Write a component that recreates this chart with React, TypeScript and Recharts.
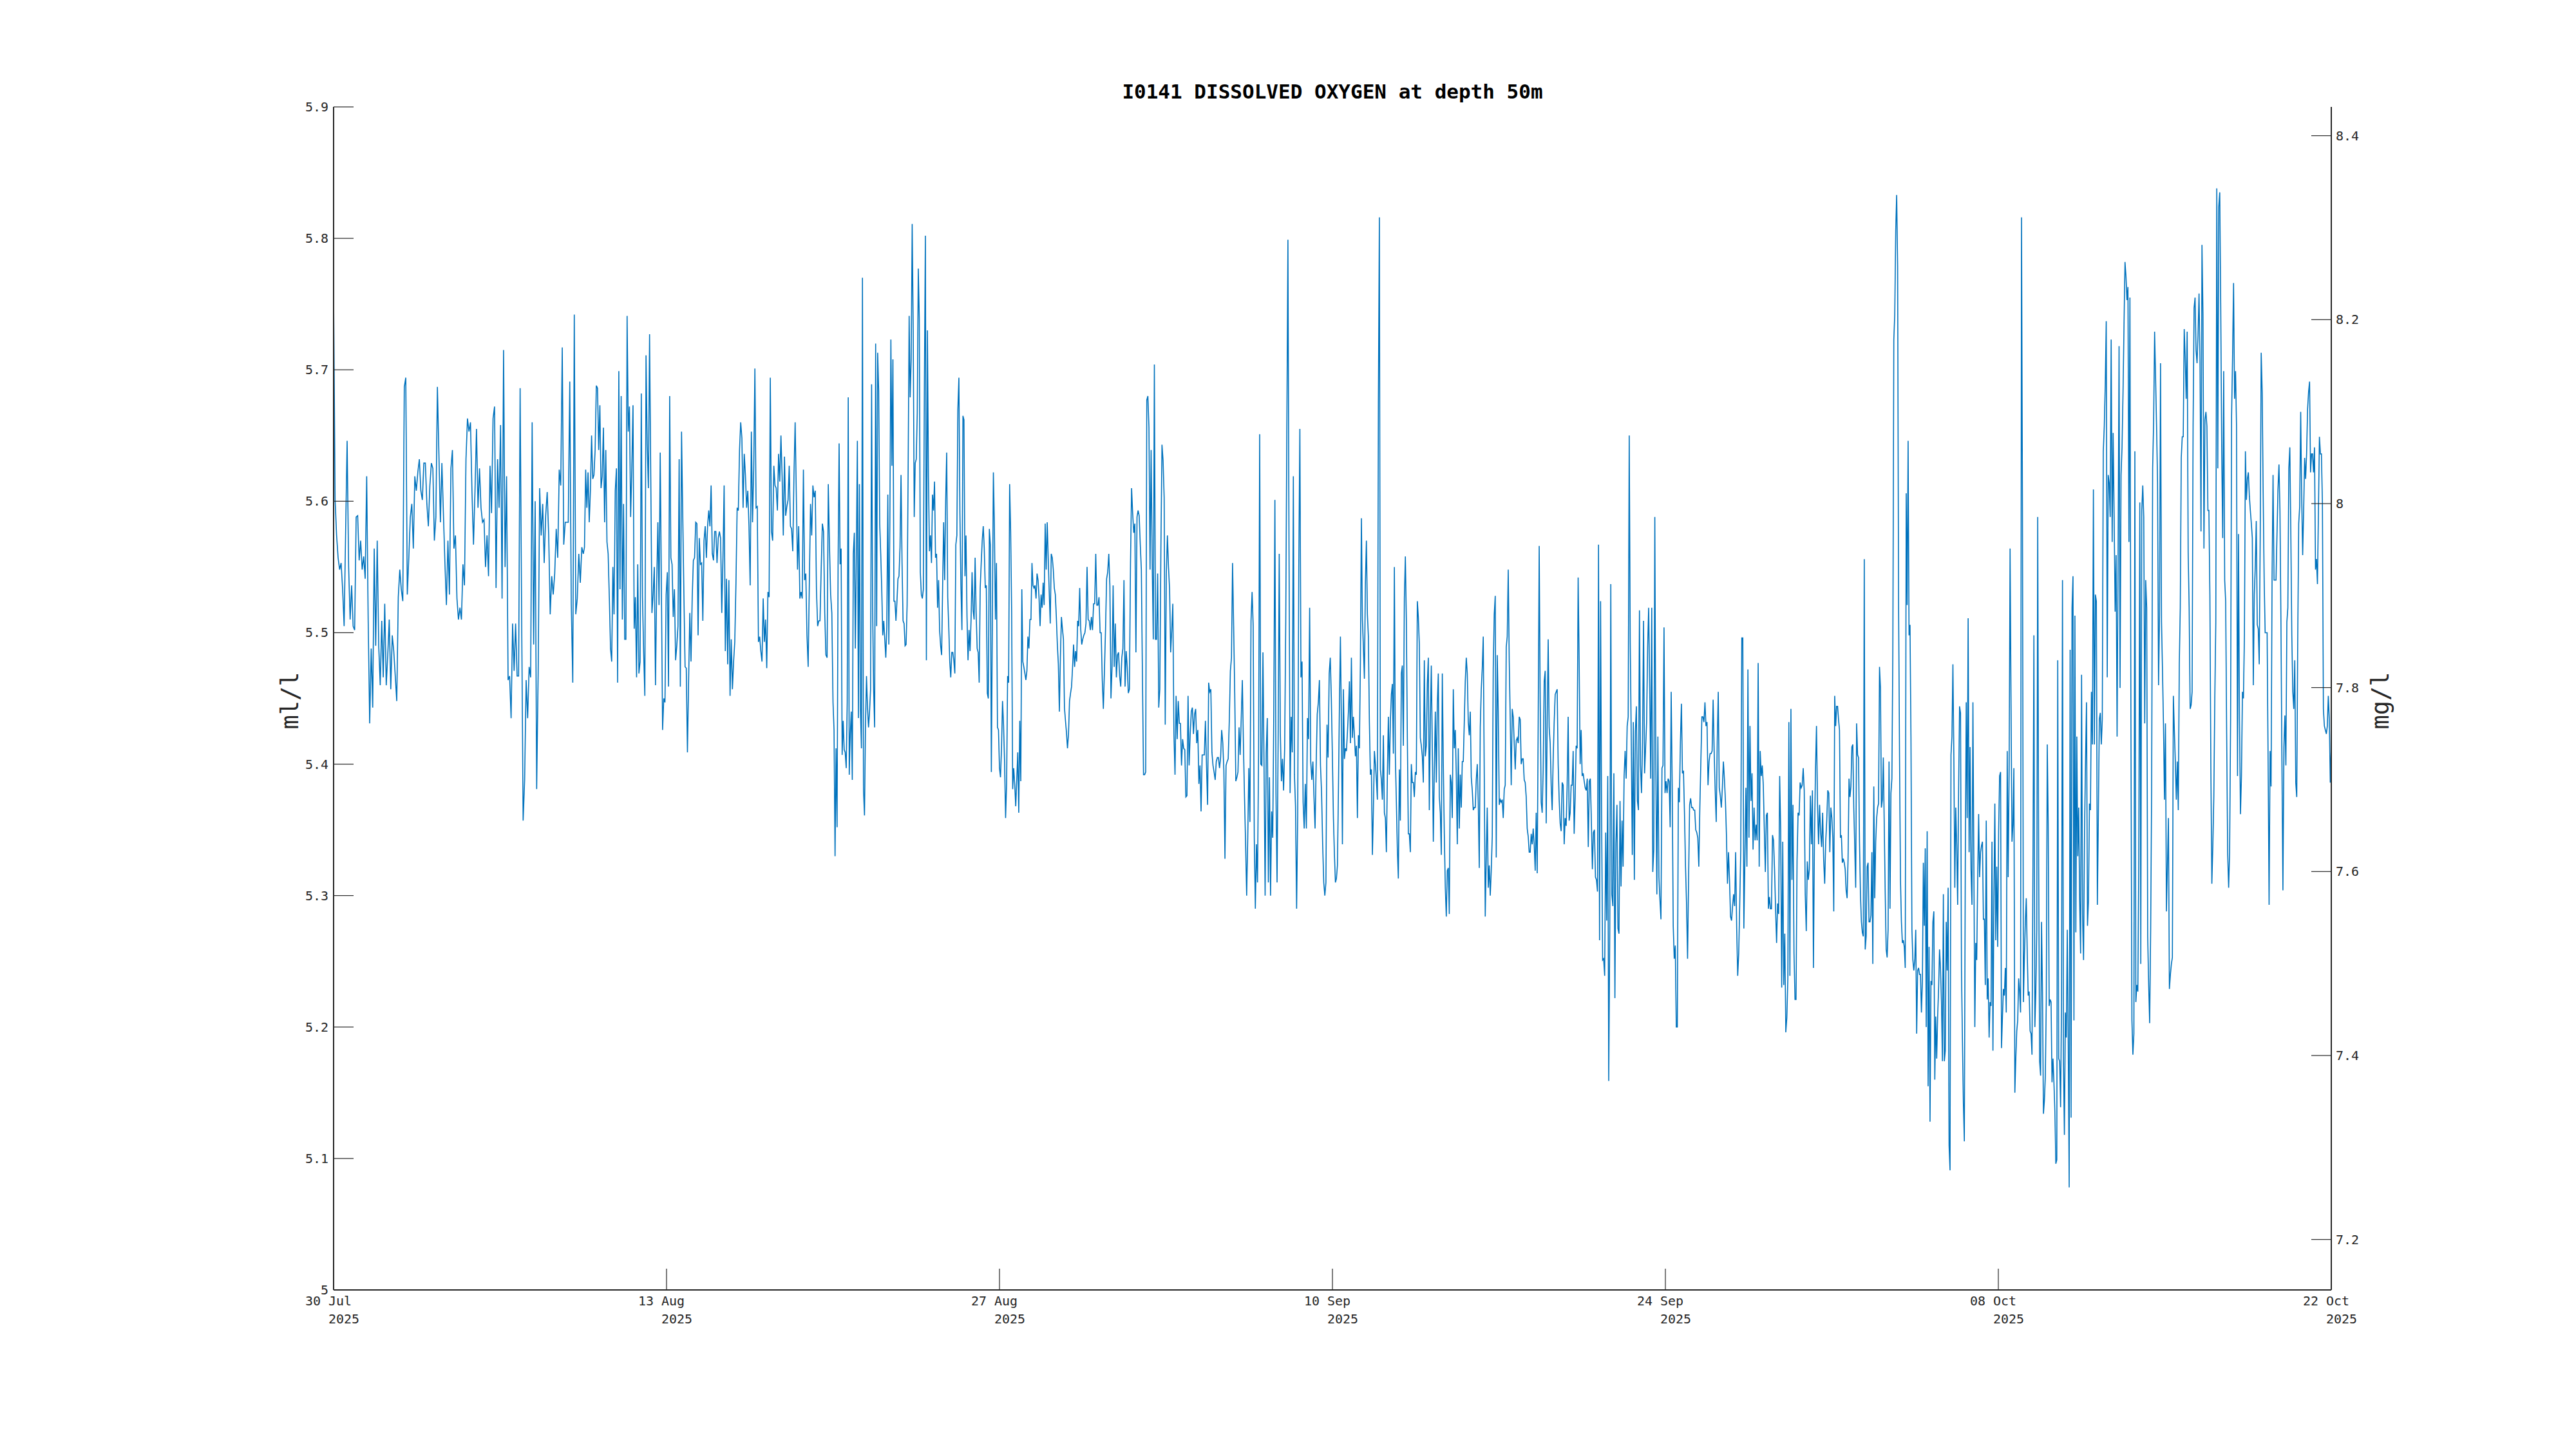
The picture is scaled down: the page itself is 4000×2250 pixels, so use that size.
import React from 'react';
import { LineChart, Line, XAxis, YAxis } from 'recharts';

// dissolved oxygen, ml/l in eight chunks of 10.5 days each
const SEG_1 = [5.758, 5.601, 5.574, 5.557, 5.548, 5.553, 5.533, 5.505, 5.577, 5.646, 5.550, 5.510, 5.536, 5.505, 5.502, 5.588, 5.589, 5.555, 5.570, 5.548, 5.558, 5.541, 5.619, 5.509, 5.431, 5.488, 5.443, 5.564, 5.490, 5.570, 5.490, 5.460, 5.509, 5.466, 5.522, 5.460, 5.483, 5.510, 5.457, 5.498, 5.486, 5.467, 5.448, 5.527, 5.548, 5.533, 5.524, 5.687, 5.694, 5.529, 5.557, 5.588, 5.598, 5.564, 5.619, 5.608, 5.622, 5.632, 5.608, 5.601, 5.629, 5.629, 5.598, 5.581, 5.612, 5.629, 5.625, 5.570, 5.588, 5.687, 5.636, 5.584, 5.629, 5.591, 5.553, 5.521, 5.570, 5.529, 5.625, 5.639, 5.564, 5.574, 5.526, 5.510, 5.519, 5.510, 5.552, 5.536, 5.632, 5.663, 5.653, 5.660, 5.607, 5.567, 5.608, 5.655, 5.595, 5.625, 5.595, 5.584, 5.586, 5.550, 5.574, 5.543, 5.627, 5.591, 5.663, 5.672, 5.534, 5.632, 5.595, 5.658, 5.526, 5.715, 5.550, 5.619, 5.464, 5.467, 5.435, 5.507, 5.471, 5.507, 5.467, 5.467, 5.686, 5.515, 5.357, 5.388, 5.464, 5.435, 5.474, 5.466, 5.660, 5.491, 5.600, 5.381, 5.469, 5.610, 5.574, 5.598, 5.553, 5.589, 5.607, 5.574, 5.514, 5.543, 5.529, 5.545, 5.579, 5.557, 5.624, 5.612, 5.717, 5.567, 5.584, 5.584, 5.584, 5.691, 5.522, 5.462, 5.742, 5.514, 5.526, 5.560, 5.538, 5.565];
const SEG_2 = [5.560, 5.565, 5.624, 5.595, 5.622, 5.584, 5.608, 5.650, 5.617, 5.620, 5.639, 5.688, 5.686, 5.639, 5.673, 5.610, 5.619, 5.656, 5.584, 5.639, 5.569, 5.560, 5.526, 5.488, 5.478, 5.550, 5.514, 5.608, 5.625, 5.462, 5.699, 5.533, 5.680, 5.510, 5.598, 5.495, 5.495, 5.741, 5.653, 5.672, 5.588, 5.625, 5.673, 5.503, 5.527, 5.466, 5.552, 5.469, 5.478, 5.682, 5.527, 5.485, 5.452, 5.711, 5.643, 5.610, 5.727, 5.619, 5.515, 5.529, 5.550, 5.460, 5.536, 5.584, 5.521, 5.637, 5.533, 5.426, 5.450, 5.447, 5.529, 5.546, 5.459, 5.680, 5.557, 5.552, 5.512, 5.533, 5.479, 5.490, 5.505, 5.632, 5.459, 5.653, 5.591, 5.529, 5.474, 5.473, 5.409, 5.464, 5.515, 5.478, 5.526, 5.555, 5.557, 5.584, 5.583, 5.498, 5.572, 5.552, 5.553, 5.509, 5.570, 5.581, 5.557, 5.581, 5.593, 5.581, 5.612, 5.560, 5.555, 5.577, 5.577, 5.553, 5.572, 5.577, 5.572, 5.515, 5.557, 5.612, 5.486, 5.541, 5.476, 5.540, 5.452, 5.495, 5.457, 5.478, 5.493, 5.538, 5.595, 5.593, 5.639, 5.660, 5.648, 5.595, 5.636, 5.620, 5.595, 5.608, 5.581, 5.536, 5.653, 5.584, 5.625, 5.701, 5.595, 5.596, 5.493, 5.497, 5.486, 5.478, 5.526, 5.493, 5.510, 5.473, 5.531, 5.527, 5.694, 5.577, 5.570, 5.627, 5.612, 5.610, 5.593, 5.636, 5.615, 5.650, 5.619, 5.574, 5.634, 5.589, 5.596, 5.601, 5.627, 5.581, 5.579, 5.562, 5.619, 5.660, 5.605, 5.548, 5.581, 5.526, 5.531, 5.526, 5.624, 5.540, 5.545, 5.498, 5.474, 5.538, 5.598, 5.574, 5.612, 5.603, 5.608, 5.533, 5.505, 5.509, 5.509, 5.548, 5.583, 5.577, 5.515, 5.483, 5.481, 5.613, 5.567, 5.529, 5.515];
const SEG_3 = [5.447, 5.426, 5.330, 5.412, 5.352, 5.550, 5.644, 5.552, 5.564, 5.407, 5.433, 5.411, 5.409, 5.397, 5.447, 5.679, 5.392, 5.423, 5.440, 5.388, 5.560, 5.576, 5.488, 5.560, 5.646, 5.435, 5.613, 5.443, 5.412, 5.770, 5.381, 5.361, 5.430, 5.467, 5.443, 5.428, 5.440, 5.457, 5.689, 5.519, 5.457, 5.428, 5.720, 5.505, 5.713, 5.684, 5.583, 5.560, 5.533, 5.498, 5.509, 5.495, 5.481, 5.505, 5.605, 5.491, 5.584, 5.723, 5.627, 5.708, 5.524, 5.524, 5.509, 5.524, 5.541, 5.543, 5.565, 5.620, 5.553, 5.509, 5.507, 5.490, 5.491, 5.521, 5.622, 5.741, 5.679, 5.708, 5.811, 5.729, 5.588, 5.629, 5.632, 5.667, 5.777, 5.739, 5.546, 5.529, 5.526, 5.533, 5.686, 5.802, 5.479, 5.730, 5.619, 5.562, 5.574, 5.553, 5.605, 5.593, 5.615, 5.557, 5.560, 5.519, 5.540, 5.502, 5.490, 5.483, 5.536, 5.584, 5.540, 5.601, 5.637, 5.527, 5.505, 5.478, 5.466, 5.485, 5.485, 5.479, 5.469, 5.567, 5.574, 5.670, 5.694, 5.591, 5.536, 5.502, 5.665, 5.662, 5.543, 5.574, 5.512, 5.479, 5.502, 5.486, 5.510, 5.546, 5.517, 5.510, 5.557, 5.515, 5.488, 5.485, 5.462, 5.534, 5.553, 5.570, 5.581, 5.564, 5.534, 5.536, 5.454, 5.450, 5.579, 5.567, 5.394, 5.512, 5.622, 5.579, 5.510, 5.553, 5.428, 5.426, 5.397, 5.390, 5.412, 5.448, 5.430, 5.402, 5.359, 5.385, 5.467, 5.462, 5.613, 5.577, 5.515, 5.381, 5.397, 5.385, 5.368, 5.388, 5.409, 5.363, 5.433, 5.387, 5.533, 5.478, 5.474, 5.469, 5.464, 5.471, 5.497, 5.488, 5.510, 5.510, 5.553, 5.536, 5.534, 5.536, 5.526, 5.545, 5.540, 5.526, 5.505, 5.529, 5.519, 5.538, 5.521, 5.583, 5.548, 5.584, 5.557, 5.531, 5.507, 5.560, 5.557, 5.548, 5.534, 5.529, 5.512, 5.491, 5.476, 5.440, 5.481, 5.512, 5.503, 5.495, 5.443, 5.433, 5.424, 5.412, 5.423, 5.448, 5.454, 5.459, 5.474, 5.491, 5.474, 5.486, 5.478, 5.509, 5.505, 5.534, 5.503, 5.491];
const SEG_4 = [5.495, 5.498, 5.500, 5.507, 5.550, 5.510, 5.509, 5.502, 5.512, 5.502, 5.522, 5.522, 5.560, 5.521, 5.521, 5.527, 5.500, 5.500, 5.464, 5.442, 5.471, 5.502, 5.541, 5.546, 5.560, 5.536, 5.450, 5.474, 5.536, 5.474, 5.507, 5.466, 5.483, 5.485, 5.467, 5.459, 5.481, 5.488, 5.540, 5.459, 5.486, 5.474, 5.454, 5.457, 5.553, 5.610, 5.591, 5.576, 5.583, 5.485, 5.588, 5.593, 5.589, 5.567, 5.548, 5.467, 5.392, 5.392, 5.394, 5.677, 5.680, 5.656, 5.548, 5.639, 5.553, 5.495, 5.704, 5.495, 5.495, 5.545, 5.443, 5.457, 5.564, 5.643, 5.631, 5.603, 5.430, 5.545, 5.574, 5.550, 5.533, 5.485, 5.502, 5.522, 5.423, 5.392, 5.452, 5.419, 5.448, 5.431, 5.431, 5.399, 5.419, 5.412, 5.411, 5.375, 5.376, 5.452, 5.399, 5.423, 5.440, 5.443, 5.423, 5.438, 5.442, 5.416, 5.426, 5.385, 5.399, 5.364, 5.407, 5.407, 5.407, 5.433, 5.399, 5.369, 5.462, 5.455, 5.457, 5.409, 5.399, 5.394, 5.388, 5.402, 5.405, 5.405, 5.397, 5.405, 5.426, 5.416, 5.395, 5.328, 5.399, 5.402, 5.404, 5.433, 5.471, 5.481, 5.553, 5.505, 5.454, 5.387, 5.390, 5.394, 5.428, 5.407, 5.435, 5.464, 5.416, 5.375, 5.340, 5.300, 5.344, 5.397, 5.356, 5.509, 5.531, 5.505, 5.344, 5.290, 5.339, 5.310, 5.412, 5.651, 5.400, 5.399, 5.485, 5.399, 5.300, 5.409, 5.435, 5.310, 5.390, 5.300, 5.364, 5.344, 5.442, 5.601, 5.378, 5.310, 5.419, 5.560, 5.424, 5.387, 5.404, 5.380, 5.412, 5.509, 5.653, 5.799, 5.564, 5.378, 5.436, 5.409, 5.619, 5.392, 5.368, 5.290, 5.361, 5.550, 5.655, 5.466, 5.478, 5.371, 5.351, 5.385, 5.351, 5.435, 5.419, 5.519, 5.402, 5.388, 5.402, 5.375, 5.351, 5.399, 5.438, 5.447, 5.464, 5.399, 5.378, 5.339, 5.310, 5.300, 5.310, 5.430, 5.405, 5.469, 5.481, 5.450];
const SEG_5 = [5.404, 5.359, 5.331, 5.310, 5.313, 5.323, 5.380, 5.445, 5.497, 5.432, 5.339, 5.457, 5.404, 5.412, 5.410, 5.424, 5.440, 5.463, 5.416, 5.481, 5.420, 5.436, 5.422, 5.406, 5.414, 5.359, 5.422, 5.412, 5.477, 5.587, 5.510, 5.489, 5.465, 5.538, 5.570, 5.514, 5.497, 5.432, 5.392, 5.396, 5.331, 5.365, 5.410, 5.400, 5.388, 5.373, 5.676, 5.816, 5.396, 5.388, 5.373, 5.422, 5.363, 5.359, 5.333, 5.392, 5.436, 5.392, 5.432, 5.453, 5.461, 5.408, 5.550, 5.406, 5.371, 5.335, 5.313, 5.396, 5.357, 5.469, 5.475, 5.414, 5.526, 5.558, 5.510, 5.420, 5.347, 5.347, 5.333, 5.400, 5.386, 5.386, 5.375, 5.394, 5.392, 5.524, 5.512, 5.491, 5.420, 5.414, 5.406, 5.386, 5.479, 5.406, 5.414, 5.461, 5.481, 5.365, 5.432, 5.475, 5.412, 5.341, 5.396, 5.440, 5.386, 5.445, 5.469, 5.375, 5.363, 5.331, 5.469, 5.400, 5.347, 5.306, 5.284, 5.319, 5.321, 5.286, 5.392, 5.386, 5.359, 5.457, 5.412, 5.426, 5.392, 5.339, 5.412, 5.351, 5.392, 5.367, 5.402, 5.402, 5.432, 5.463, 5.481, 5.469, 5.432, 5.422, 5.440, 5.390, 5.380, 5.365, 5.367, 5.367, 5.388, 5.400, 5.371, 5.321, 5.428, 5.457, 5.473, 5.497, 5.392, 5.284, 5.329, 5.367, 5.306, 5.323, 5.300, 5.319, 5.345, 5.473, 5.514, 5.528, 5.329, 5.483, 5.440, 5.369, 5.373, 5.371, 5.373, 5.359, 5.381, 5.384, 5.489, 5.497, 5.548, 5.479, 5.434, 5.384, 5.442, 5.436, 5.416, 5.396, 5.418, 5.420, 5.416, 5.436, 5.434, 5.400, 5.404, 5.404, 5.388, 5.386, 5.375, 5.351, 5.345, 5.333, 5.333, 5.347, 5.339, 5.351, 5.339, 5.319, 5.363, 5.317, 5.432, 5.566, 5.449, 5.371, 5.363, 5.396, 5.463, 5.471, 5.355, 5.432, 5.495, 5.428, 5.416, 5.384, 5.365, 5.404, 5.432, 5.453, 5.455, 5.457, 5.400, 5.373, 5.355, 5.349, 5.386, 5.384, 5.339, 5.359, 5.353, 5.384, 5.436, 5.357, 5.363, 5.384, 5.384, 5.410, 5.347, 5.375, 5.414, 5.412, 5.542, 5.479, 5.400, 5.426];
const SEG_6 = [5.391, 5.393, 5.387, 5.382, 5.380, 5.389, 5.337, 5.387, 5.389, 5.357, 5.320, 5.348, 5.350, 5.314, 5.312, 5.303, 5.567, 5.266, 5.524, 5.361, 5.251, 5.252, 5.239, 5.348, 5.281, 5.391, 5.159, 5.275, 5.537, 5.301, 5.292, 5.393, 5.222, 5.339, 5.369, 5.275, 5.271, 5.372, 5.307, 5.357, 5.322, 5.391, 5.410, 5.389, 5.429, 5.436, 5.650, 5.492, 5.417, 5.331, 5.432, 5.312, 5.425, 5.444, 5.372, 5.365, 5.517, 5.399, 5.378, 5.417, 5.509, 5.393, 5.412, 5.432, 5.489, 5.519, 5.459, 5.389, 5.519, 5.318, 5.335, 5.588, 5.399, 5.301, 5.421, 5.314, 5.297, 5.282, 5.397, 5.399, 5.504, 5.378, 5.387, 5.378, 5.389, 5.387, 5.352, 5.455, 5.384, 5.277, 5.252, 5.262, 5.200, 5.200, 5.382, 5.371, 5.417, 5.446, 5.393, 5.395, 5.363, 5.322, 5.294, 5.252, 5.312, 5.369, 5.374, 5.367, 5.367, 5.365, 5.365, 5.350, 5.348, 5.344, 5.322, 5.367, 5.402, 5.436, 5.436, 5.432, 5.447, 5.429, 5.432, 5.384, 5.402, 5.408, 5.408, 5.410, 5.449, 5.410, 5.380, 5.356, 5.417, 5.455, 5.382, 5.376, 5.367, 5.382, 5.402, 5.389, 5.372, 5.346, 5.309, 5.333, 5.312, 5.284, 5.281, 5.292, 5.301, 5.292, 5.333, 5.275, 5.239, 5.256, 5.294, 5.335, 5.496, 5.496, 5.275, 5.327, 5.382, 5.322, 5.472, 5.344, 5.429, 5.372, 5.393, 5.335, 5.367, 5.342, 5.354, 5.342, 5.477, 5.322, 5.410, 5.391, 5.399, 5.384, 5.350, 5.318, 5.361, 5.363, 5.290, 5.299, 5.290, 5.290, 5.346, 5.342, 5.320, 5.290, 5.264, 5.294, 5.286, 5.391, 5.350, 5.230, 5.341, 5.232, 5.271, 5.196, 5.207, 5.237, 5.432, 5.239, 5.442, 5.312, 5.369, 5.256, 5.221, 5.221, 5.327, 5.363, 5.361, 5.386, 5.382, 5.384, 5.397, 5.380, 5.301, 5.273, 5.326, 5.312, 5.320, 5.376, 5.339, 5.380, 5.245, 5.342, 5.395, 5.429, 5.369, 5.339, 5.369, 5.348, 5.337, 5.363, 5.327, 5.309, 5.341, 5.357, 5.380, 5.378, 5.333, 5.367];
const SEG_7 = [5.359, 5.344, 5.288, 5.452, 5.429, 5.444, 5.444, 5.434, 5.426, 5.344, 5.346, 5.325, 5.328, 5.325, 5.320, 5.304, 5.298, 5.328, 5.389, 5.375, 5.383, 5.413, 5.415, 5.367, 5.338, 5.306, 5.431, 5.407, 5.405, 5.341, 5.301, 5.280, 5.272, 5.269, 5.556, 5.259, 5.269, 5.322, 5.325, 5.280, 5.280, 5.285, 5.333, 5.248, 5.383, 5.298, 5.341, 5.359, 5.367, 5.370, 5.474, 5.458, 5.367, 5.373, 5.405, 5.352, 5.301, 5.259, 5.253, 5.274, 5.402, 5.290, 5.378, 5.389, 5.487, 5.723, 5.742, 5.806, 5.833, 5.779, 5.524, 5.407, 5.312, 5.280, 5.264, 5.266, 5.261, 5.245, 5.606, 5.521, 5.646, 5.498, 5.506, 5.421, 5.274, 5.251, 5.243, 5.251, 5.274, 5.195, 5.243, 5.245, 5.240, 5.240, 5.211, 5.235, 5.325, 5.277, 5.336, 5.200, 5.349, 5.155, 5.261, 5.128, 5.235, 5.232, 5.280, 5.288, 5.160, 5.208, 5.176, 5.208, 5.229, 5.259, 5.245, 5.219, 5.174, 5.301, 5.174, 5.182, 5.280, 5.243, 5.306, 5.110, 5.091, 5.407, 5.421, 5.476, 5.405, 5.306, 5.367, 5.338, 5.293, 5.381, 5.444, 5.439, 5.243, 5.190, 5.142, 5.113, 5.325, 5.447, 5.359, 5.511, 5.333, 5.413, 5.320, 5.293, 5.447, 5.322, 5.200, 5.264, 5.251, 5.312, 5.362, 5.314, 5.333, 5.338, 5.341, 5.282, 5.282, 5.232, 5.357, 5.221, 5.237, 5.192, 5.219, 5.216, 5.341, 5.182, 5.296, 5.370, 5.266, 5.322, 5.261, 5.349, 5.391, 5.394, 5.184, 5.208, 5.229, 5.224, 5.245, 5.211, 5.410, 5.314, 5.397, 5.564, 5.444, 5.341, 5.354, 5.397, 5.150, 5.176, 5.197, 5.205, 5.237, 5.227, 5.211, 5.816, 5.593, 5.219, 5.253, 5.280, 5.298, 5.256, 5.224, 5.227, 5.197, 5.195, 5.179, 5.322, 5.498, 5.200, 5.227, 5.274, 5.588, 5.322, 5.174, 5.163, 5.280, 5.227, 5.134, 5.144, 5.163, 5.221, 5.415, 5.354, 5.216, 5.221, 5.219, 5.158, 5.176, 5.158, 5.136, 5.096, 5.099, 5.479, 5.176, 5.174, 5.139, 5.221, 5.540, 5.174, 5.118, 5.211, 5.192, 5.274, 5.189, 5.078, 5.487, 5.131, 5.519, 5.543, 5.205, 5.513, 5.272, 5.421, 5.330, 5.367, 5.296, 5.256];
const SEG_8 = [5.468, 5.285, 5.251, 5.349, 5.402, 5.447, 5.277, 5.296, 5.370, 5.365, 5.455, 5.415, 5.609, 5.415, 5.529, 5.524, 5.293, 5.359, 5.434, 5.439, 5.415, 5.434, 5.638, 5.657, 5.689, 5.737, 5.466, 5.620, 5.614, 5.588, 5.723, 5.569, 5.652, 5.588, 5.516, 5.559, 5.421, 5.556, 5.718, 5.458, 5.620, 5.641, 5.683, 5.734, 5.782, 5.771, 5.753, 5.763, 5.569, 5.755, 5.434, 5.205, 5.179, 5.195, 5.638, 5.219, 5.232, 5.227, 5.328, 5.599, 5.248, 5.593, 5.612, 5.588, 5.431, 5.540, 5.519, 5.269, 5.232, 5.203, 5.274, 5.381, 5.625, 5.660, 5.729, 5.694, 5.657, 5.614, 5.460, 5.514, 5.705, 5.508, 5.471, 5.429, 5.373, 5.431, 5.288, 5.322, 5.359, 5.229, 5.240, 5.248, 5.253, 5.452, 5.426, 5.402, 5.373, 5.402, 5.365, 5.476, 5.519, 5.633, 5.649, 5.649, 5.731, 5.710, 5.678, 5.729, 5.561, 5.519, 5.442, 5.445, 5.455, 5.657, 5.747, 5.755, 5.715, 5.705, 5.726, 5.758, 5.707, 5.577, 5.795, 5.742, 5.564, 5.662, 5.668, 5.657, 5.593, 5.593, 5.529, 5.397, 5.309, 5.338, 5.375, 5.450, 5.508, 5.838, 5.625, 5.824, 5.835, 5.747, 5.638, 5.572, 5.699, 5.540, 5.524, 5.423, 5.333, 5.306, 5.333, 5.434, 5.665, 5.710, 5.766, 5.678, 5.699, 5.657, 5.391, 5.575, 5.434, 5.362, 5.391, 5.455, 5.450, 5.498, 5.638, 5.601, 5.617, 5.622, 5.604, 5.593, 5.583, 5.572, 5.460, 5.529, 5.551, 5.585, 5.506, 5.503, 5.476, 5.572, 5.713, 5.683, 5.606, 5.540, 5.500, 5.500, 5.500, 5.402, 5.293, 5.410, 5.383, 5.540, 5.620, 5.540, 5.540, 5.540, 5.575, 5.609, 5.628, 5.593, 5.508, 5.402, 5.304, 5.413, 5.437, 5.399, 5.508, 5.519, 5.625, 5.641, 5.577, 5.498, 5.455, 5.442, 5.479, 5.386, 5.375, 5.492, 5.583, 5.596, 5.668, 5.604, 5.559, 5.593, 5.633, 5.617, 5.636, 5.670, 5.683, 5.691, 5.622, 5.636, 5.636, 5.622, 5.641, 5.548, 5.556, 5.537, 5.593, 5.649, 5.636, 5.636, 5.599, 5.442, 5.429, 5.426, 5.423, 5.429, 5.452, 5.434, 5.386, 5.413];

const SEGMENTS = [SEG_1, SEG_2, SEG_3, SEG_4, SEG_5, SEG_6, SEG_7, SEG_8];

const START = Date.UTC(2025, 6, 30);
const END = Date.UTC(2025, 9, 22);

const X_TICK_DATES = ['2025-07-30', '2025-08-13', '2025-08-27', '2025-09-10', '2025-09-24', '2025-10-08', '2025-10-22'];
const X_TICK_LABELS = ['30 Jul', '13 Aug', '27 Aug', '10 Sep', '24 Sep', '08 Oct', '22 Oct'];
const X_YEAR_LABEL = '2025';
const X_TICKS = X_TICK_DATES.map(d => Date.parse(d + 'T00:00:00Z'));

const ML_TICKS = [5, 5.1, 5.2, 5.3, 5.4, 5.5, 5.6, 5.7, 5.8, 5.9];
const MG_TICKS = [7.2, 7.4, 7.6, 7.8, 8, 8.2, 8.4];
const ML_TO_MG = 1.42903;

const TITLE = 'I0141 DISSOLVED OXYGEN at depth 50m';
const LEFT_LABEL = 'ml/l';
const RIGHT_LABEL = 'mg/l';

const AXIS = '#262626';
const LINE = '#0072BD';
const FONT = '"DejaVu Sans Mono", "Liberation Mono", monospace';

const segSpan = (END - START) / SEGMENTS.length;
const data = SEGMENTS.flatMap((seg, k) => {
    const last = k === SEGMENTS.length - 1;
    const step = segSpan / (last ? seg.length - 1 : seg.length);
    return seg.map((v, i) => ({ t: START + k * segSpan + i * step, v }));
});

function XTick({ x, y, payload }: any) {
    const idx = X_TICKS.indexOf(payload.value);
    return (
        <g>
            <line x1={x} x2={x} y1={y} y2={y - 33} stroke={AXIS} strokeWidth={1.2} />
            <text x={x - 8} y={y + 24} textAnchor="middle" fontFamily={FONT} fontSize={20} fill={AXIS}>
                {X_TICK_LABELS[idx]}
            </text>
            <text x={x + 16} y={y + 52} textAnchor="middle" fontFamily={FONT} fontSize={20} fill={AXIS}>
                {X_YEAR_LABEL}
            </text>
        </g>
    );
}

function LeftTick({ x, y, payload }: any) {
    return (
        <g>
            <line x1={x} x2={x + 31} y1={y} y2={y} stroke={AXIS} strokeWidth={1.2} />
            <text x={x - 8} y={y + 7} textAnchor="end" fontFamily={FONT} fontSize={20} fill={AXIS}>
                {String(+Number(payload.value).toFixed(1))}
            </text>
        </g>
    );
}

function RightTick({ x, y, payload }: any) {
    return (
        <g>
            <line x1={x - 31} x2={x} y1={y} y2={y} stroke={AXIS} strokeWidth={1.2} />
            <text x={x + 7} y={y + 7} textAnchor="start" fontFamily={FONT} fontSize={20} fill={AXIS}>
                {String(+Number(payload.value).toFixed(1))}
            </text>
        </g>
    );
}

export default function App() {
    return (
        <div style={{ position: 'absolute', left: 0, top: 0, width: 4000, height: 2250, background: '#fff' }}>
            <LineChart
                width={4000}
                height={2250}
                data={data}
                margin={{ top: 166, right: 280, bottom: 147, left: 418 }}
            >
                <XAxis
                    dataKey="t"
                    type="number"
                    domain={[START, END]}
                    ticks={X_TICKS}
                    interval={0}
                    height={100}
                    allowDataOverflow
                    axisLine={{ stroke: AXIS, strokeWidth: 2 }}
                    tickLine={false}
                    tickSize={0}
                    tickMargin={0}
                    tick={<XTick />}
                />
                <YAxis
                    yAxisId="ml"
                    type="number"
                    domain={[5, 5.9]}
                    ticks={ML_TICKS}
                    interval={0}
                    width={100}
                    allowDataOverflow
                    axisLine={{ stroke: AXIS, strokeWidth: 2 }}
                    tickLine={false}
                    tickSize={0}
                    tickMargin={0}
                    tick={<LeftTick />}
                />
                <YAxis
                    yAxisId="mg"
                    orientation="right"
                    type="number"
                    domain={[5 * ML_TO_MG, 5.9 * ML_TO_MG]}
                    ticks={MG_TICKS}
                    interval={0}
                    width={100}
                    allowDataOverflow
                    axisLine={{ stroke: AXIS, strokeWidth: 2 }}
                    tickLine={false}
                    tickSize={0}
                    tickMargin={0}
                    tick={<RightTick />}
                />
                <Line
                    yAxisId="mg"
                    type="linear"
                    dataKey={(d: any) => d.v * ML_TO_MG}
                    stroke="none"
                    strokeOpacity={0}
                    dot={false}
                    activeDot={false}
                    isAnimationActive={false}
                />
                <Line
                    yAxisId="ml"
                    type="linear"
                    dataKey="v"
                    stroke={LINE}
                    strokeWidth={1.6}
                    dot={false}
                    activeDot={false}
                    isAnimationActive={false}
                />
            </LineChart>
            <svg width={4000} height={2250} style={{ position: 'absolute', left: 0, top: 0, pointerEvents: 'none' }}>
                <text x={2069} y={153} textAnchor="middle" fontFamily={FONT} fontWeight="bold" fontSize={31} fill="#000">
                    {TITLE}
                </text>
                <text x={463} y={1088} textAnchor="middle" fontFamily={FONT} fontSize={37} fill={AXIS} transform="rotate(-90 463 1088)">
                    {LEFT_LABEL}
                </text>
                <text x={3709} y={1088} textAnchor="middle" fontFamily={FONT} fontSize={37} fill={AXIS} transform="rotate(-90 3709 1088)">
                    {RIGHT_LABEL}
                </text>
            </svg>
        </div>
    );
}
